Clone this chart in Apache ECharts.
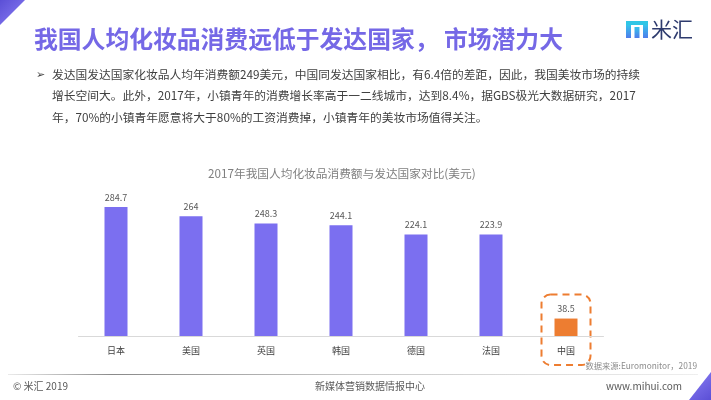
<!DOCTYPE html>
<html><head><meta charset="utf-8">
<script src="https://cdn.jsdelivr.net/npm/echarts@6/dist/echarts.min.js"></script>
<style>html,body{margin:0;padding:0;background:#fff}#c{width:711px;height:400px}</style>
</head><body><div id="c"></div>
<script>
const categories = ['日本','美国','英国','韩国','德国','法国','中国'];
const values = [284.7, 264, 248.3, 244.1, 224.1, 223.9, 38.5];
const highlightCategory = '中国';
const pageTitle = '我国人均化妆品消费远低于发达国家， 市场潜力大';
const bulletLines = [
  '发达国发达国家化妆品人均年消费额249美元，中国同发达国家相比，有6.4倍的差距，因此，我国美妆市场的持续',
  '增长空间大。此外，2017年，小镇青年的消费增长率高于一二线城市，达到8.4%，据GBS极光大数据研究，2017',
  '年，70%的小镇青年愿意将大于80%的工资消费掉，小镇青年的美妆市场值得关注。'
];
const chartTitle = '2017年我国人均化妆品消费额与发达国家对比(美元)';
const sourceText = '数据来源:Euromonitor，2019';
const footerLeft = '© 米汇 2019';
const footerCenter = '新媒体营销数据情报中心';
const footerRight = 'www.mihui.com';

const FONT = '"Noto Sans CJK SC", "Microsoft YaHei", sans-serif';
const PURPLE = '#7B6FF0';
const ORANGE = '#ED7D31';

const chart = echarts.init(document.getElementById('c'), null, {renderer: 'canvas'});

const graphics = [
  {type:'polygon', shape:{points:[[0,0],[25,0],[0,25]]},
   style:{fill:new echarts.graphic.LinearGradient(0,0,1,1,[{offset:0,color:'#5B4FD6'},{offset:1,color:'#8C80F5'}])}},
  {type:'polygon', shape:{points:[[711,372],[711,400],[689,400]]},
   style:{fill:new echarts.graphic.LinearGradient(0,0,1,1,[{offset:0,color:'#8C80F5'},{offset:1,color:'#5B4FD6'}])}},
  {type:'text', left:34, top:27, style:{text:pageTitle, font:'bold 23.8px '+FONT, fill:'#7568E6'}},
  {type:'rect', shape:{x:626,y:21,width:22,height:4}, style:{fill:'#2FC6E6'}},
  {type:'rect', shape:{x:626,y:25,width:5,height:13}, style:{fill:new echarts.graphic.LinearGradient(0,0,0,1,[{offset:0,color:'#35C3EC'},{offset:1,color:'#4F7CEB'}])}},
  {type:'rect', shape:{x:634.5,y:27,width:5,height:11}, style:{fill:new echarts.graphic.LinearGradient(0,0,0,1,[{offset:0,color:'#35C3EC'},{offset:1,color:'#4F7CEB'}])}},
  {type:'rect', shape:{x:643,y:25,width:5,height:13}, style:{fill:new echarts.graphic.LinearGradient(0,0,0,1,[{offset:0,color:'#35C3EC'},{offset:1,color:'#4F7CEB'}])}},
  {type:'text', left:651, top:19, style:{text:'米汇', font:'21px '+FONT, fill:'#2E3B6E'}},
  {type:'text', left:36, top:70, style:{text:'➢', font:'11px "DejaVu Sans", sans-serif', fill:'#404040'}},
  {type:'text', left:208, top:168, style:{text:chartTitle, font:'11.7px '+FONT, fill:'#7F7F7F'}},
  {type:'text', right:14, top:362, style:{text:sourceText, font:'8.3px '+FONT, fill:'#8C8C8C'}},
  {type:'rect', shape:{x:8,y:374,width:690,height:1},
   style:{fill:new echarts.graphic.LinearGradient(0,0,1,0,[{offset:0,color:'rgba(150,150,150,0.2)'},{offset:0.15,color:'#8A8A8A'},{offset:0.5,color:'#C8C8C8'},{offset:1,color:'rgba(200,200,200,0.3)'}])}},
  {type:'text', left:13, top:381, style:{text:footerLeft, font:'10px '+FONT, fill:'#595959'}},
  {type:'text', left:315, top:381, style:{text:footerCenter, font:'10px '+FONT, fill:'#595959'}},
  {type:'text', left:606, top:381, style:{text:footerRight, font:'10px '+FONT, fill:'#595959'}}
];
bulletLines.forEach((t,i)=>{
  graphics.push({type:'text', left:52, top:68.5+i*21.5, style:{text:t, font:'11.75px '+FONT, fill:'#404040'}});
});

chart.setOption({
  animation:false,
  textStyle:{fontFamily:FONT},
  grid:{left:78.5, width:525, top:200, height:136},
  xAxis:{type:'category', data:categories,
    axisLine:{lineStyle:{color:'#D9D9D9', width:1}}, axisTick:{show:false},
    axisLabel:{color:'#404040', fontSize:9, margin:10}},
  yAxis:{type:'value', min:0, max:300, show:false, splitLine:{show:false}},
  series:[{type:'bar', barWidth:23,
    data:values.map((v,i)=>({value:v, itemStyle:{color: categories[i]===highlightCategory?ORANGE:PURPLE}})),
    label:{show:true, position:'top', distance:5, color:'#595959', fontSize:9}}],
  graphic:graphics
});

const hiIdx = categories.indexOf(highlightCategory);
const base = chart.convertToPixel({seriesIndex:0}, [hiIdx, 0]);
const topPx = chart.convertToPixel({seriesIndex:0}, [hiIdx, values[hiIdx]]);
graphics.push({type:'rect', shape:{x:base[0]-24.5, y:topPx[1]-24, width:49, height:(base[1]-topPx[1])+24+29, r:9},
  style:{fill:'none', stroke:ORANGE, lineWidth:2, lineDash:[7,5]}});
chart.setOption({graphic:graphics}, {replaceMerge:['graphic']});
</script></body></html>
